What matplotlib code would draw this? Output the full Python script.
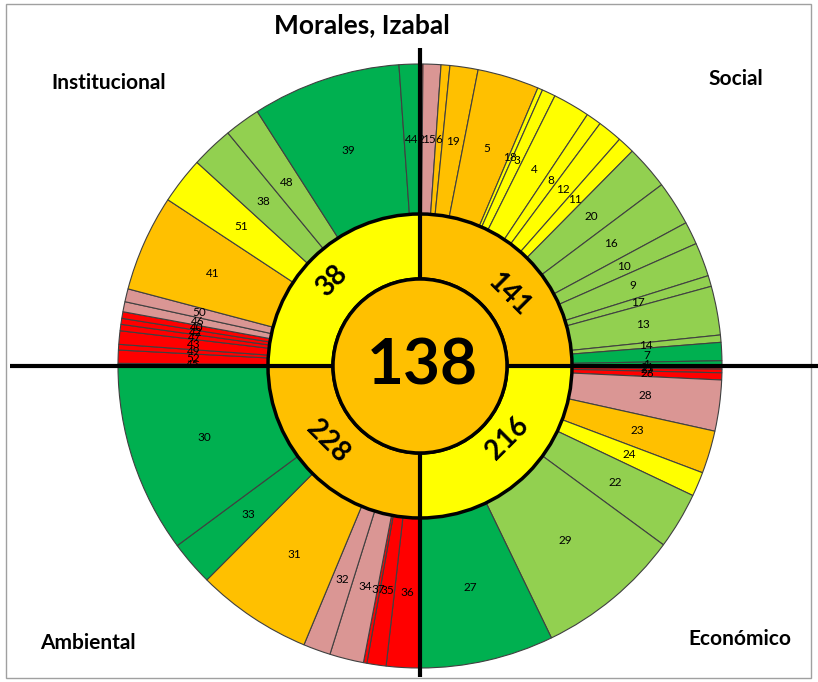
import matplotlib
matplotlib.use("Agg")
import matplotlib.pyplot as plt
from matplotlib.patches import Circle, Rectangle
import numpy as np

# ---------------- data ----------------
quadrants = ["Social", "Económico", "Ambiental", "Institucional"]
quadrant_scores = ["141", "216", "228", "38"]
quadrant_status = ["naranja", "amarillo", "naranja", "amarillo"]
total_score = "138"
total_status = "naranja"

social_labels = ["2", "15", "6", "19", "5", "18", "3", "4", "8", "12", "11",
                 "20", "16", "10", "9", "17", "13", "14", "7", "1"]
social_weights = [0.57, 3.43, 1.7, 5.4, 11.87, 0.96, 2.61, 7.12, 2.94, 4.75, 3.3,
                  8.48, 8.57, 4.4, 6.5, 2.1, 9.4, 1.4, 3.5, 1.0]
social_status = ["rojo", "rosado", "naranja", "naranja", "naranja", "amarillo",
                 "amarillo", "amarillo", "amarillo", "amarillo", "amarillo",
                 "verde_claro", "verde_claro", "verde_claro", "verde_claro",
                 "verde_claro", "verde_claro", "verde_claro", "verde", "verde"]

economico_labels = ["21", "25", "26", "28", "23", "24", "22", "29", "27"]
economico_weights = [0.6, 0.7, 1.36, 9.81, 8.23, 4.7, 10.9, 27.9, 25.8]
economico_status = ["rojo", "rojo", "rojo", "rosado", "naranja", "amarillo",
                    "verde_claro", "verde_claro", "verde"]

ambiental_labels = ["36", "35", "37", "34", "32", "31", "33", "30"]
ambiental_weights = [6.45, 3.69, 0.66, 6.55, 5.25, 22.3, 8.6, 36.5]
ambiental_status = ["rojo", "rojo", "rojo", "rosado", "rosado", "naranja",
                    "verde", "verde"]

institucional_labels = ["45", "52", "49", "43", "47", "42", "40", "46", "50",
                        "41", "51", "38", "48", "39", "44"]
institucional_weights = [0.51, 2.53, 1.08, 2.59, 1.23, 1.15, 1.27, 1.94, 2.5,
                         18.6, 9.0, 8.1, 6.9, 28.6, 4.0]
institucional_status = ["rojo", "rojo", "rojo", "rojo", "rojo", "rojo", "rojo",
                        "rosado", "rosado", "naranja", "amarillo",
                        "verde_claro", "verde_claro", "verde", "verde"]

# ---------------- style ----------------
palette = {"rojo": "#FF0000", "rosado": "#DA9694", "naranja": "#FFC000",
           "amarillo": "#FFFF00", "verde_claro": "#92D050", "verde": "#00B050"}
FONT = ["Lato", "DejaVu Sans"]

W, H = 818, 682
cx, cy = 420, H - 366
R_OUT, R_MID, R_IN = 302, 152, 87

fig = plt.figure(figsize=(W / 100, H / 100), dpi=100)
ax = fig.add_axes([0, 0, 1, 1])

# outer ring: each dimension occupies one quarter of the circle
groups = [
    (social_labels, social_weights, social_status),
    (economico_labels, economico_weights, economico_status),
    (ambiental_labels, ambiental_weights, ambiental_status),
    (institucional_labels, institucional_weights, institucional_status),
]
outer_vals, outer_labels, outer_cols = [], [], []
for labs, wts, sts in groups:
    tot = float(sum(wts))
    outer_vals += [w / tot for w in wts]
    outer_labels += labs
    outer_cols += [palette[s] for s in sts]

wedges, _ = ax.pie(outer_vals, radius=R_OUT, center=(cx, cy), startangle=90,
                   counterclock=False, colors=outer_cols,
                   wedgeprops=dict(width=R_OUT - R_MID, edgecolor="#404040",
                                   linewidth=0.8))
r_lab = (R_OUT + R_MID) / 2
for w, lab in zip(wedges, outer_labels):
    ang = np.deg2rad((w.theta1 + w.theta2) / 2)
    ax.text(cx + r_lab * np.cos(ang), cy + r_lab * np.sin(ang), lab,
            ha="center", va="center", fontsize=8.5, family=FONT, color="black")

# middle ring
mid_wedges, _ = ax.pie([1, 1, 1, 1], radius=R_MID, center=(cx, cy),
                       startangle=90, counterclock=False,
                       colors=[palette[s] for s in quadrant_status],
                       wedgeprops=dict(width=R_MID - R_IN, edgecolor="black",
                                       linewidth=2.5))

# axis cross
ax.plot([10, 818], [cy, cy], color="black", lw=3, solid_capstyle="butt")
ax.plot([cx, cx], [H - 48, H - 677], color="black", lw=3, solid_capstyle="butt")

# centre
ax.add_patch(Circle((cx, cy), R_IN, facecolor=palette[total_status],
                    edgecolor="black", lw=2.5, zorder=5))
ax.text(cx + 2, cy, total_score, ha="center", va="center", fontsize=46,
        fontweight="bold", family=FONT, zorder=6)

# middle ring labels (tangential)
mid_pos = [(114, 51, -45), (113, 129.5, 45), (119, 231, -45), (123, 314, 45)]
for (rr, a, rot), s in zip(mid_pos, quadrant_scores):
    t = np.deg2rad(90 - a)
    ax.text(cx + rr * np.cos(t), cy + rr * np.sin(t), s, rotation=rot,
            rotation_mode="anchor", ha="center", va="center", fontsize=20,
            fontweight="bold", family=FONT, zorder=6)

# titles
ax.text(362, H - 25, "Morales, Izabal", ha="center", va="center", fontsize=19,
        fontweight="bold", family=FONT)
quad_pos = [(736, H - 79), (740, H - 639), (88, H - 643), (109, H - 83)]
for (x, y), name in zip(quad_pos, quadrants):
    ax.text(x, y, name, ha="center", va="center", fontsize=15,
            fontweight="bold", family=FONT)

# chart border
ax.add_patch(Rectangle((6, H - 678), 805, 674, fill=False,
                       edgecolor="#A0A0A0", lw=1))

ax.set_xlim(0, W)
ax.set_ylim(0, H)
ax.set_aspect("equal")
ax.axis("off")
fig.savefig("out.png", dpi=100)
